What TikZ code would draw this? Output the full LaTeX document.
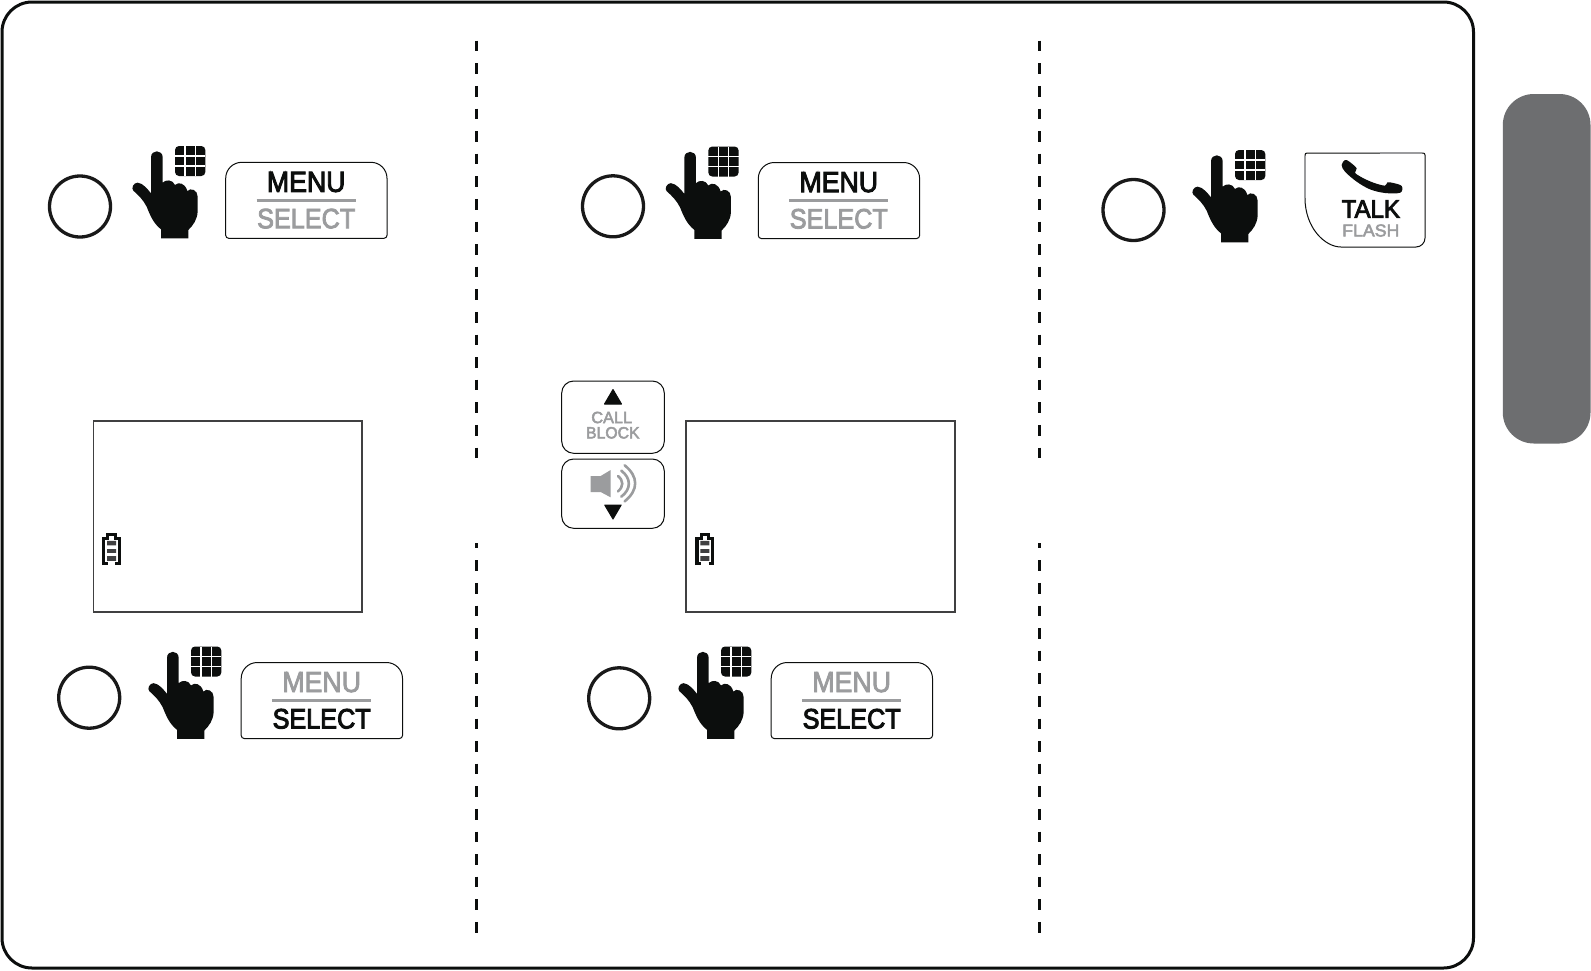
\documentclass[tikz,border=0pt]{standalone}
\usepackage{fontspec}
\setmainfont{Liberation Sans}
\newfontfamily\btnfont[FakeBold=3.5]{Liberation Sans}
\newfontfamily\softfont[FakeBold=3]{Liberation Sans}
\definecolor{inkk}{HTML}{0C0E0D}
\definecolor{softgray}{HTML}{9B9C9E}
\definecolor{tabgray}{HTML}{6D6E70}
\definecolor{scrline}{HTML}{404041}
\tikzset{
  framebox/.style={draw=inkk,line width=3pt,rounded corners=30pt},
  tabbox/.style={fill=tabgray,rounded corners=31pt},
  dashline/.style={draw=inkk,line width=2.8pt,dash pattern=on 10.7pt off 11.9pt},
  stepcircle/.style={circle,draw=black!90!white,line width=3.3pt,minimum size=61pt,inner sep=0pt,fill=white},
  btnline/.style={draw=inkk,line width=1pt},
  screenbox/.style={draw=scrline,line width=1.6pt,outer sep=0pt,inner sep=0pt,anchor=north west,minimum width=268.8pt,minimum height=191pt},
  lbl/.style={inner sep=0pt,outer sep=0pt,anchor=center},
  softline/.style={draw=softgray,line width=3pt}
}
% hand icon, drawn in units of 1/3 pixel
\newcommand{\handicon}[2]{%
  \begin{scope}[shift={(#1+125,#2+140)},x=0.33333pt,y=-0.33333pt]
    \fill[inkk] (108,295) -- (108,268) .. controls (85,250) and (75,225) .. (65,200)
      .. controls (55,180) and (40,165) .. (25,152)
      .. controls (18,145) and (25,128) .. (38,128)
      .. controls (55,130) and (68,148) .. (78,160) -- (78,52)
      .. controls (78,28) and (113,28) .. (113,52) -- (113,128)
      .. controls (122,118) and (143,118) .. (150,135)
      .. controls (160,125) and (180,128) .. (187,153)
      .. controls (197,142) and (218,150) .. (218,170) -- (218,215)
      .. controls (216,240) and (205,255) .. (190,270) -- (190,295) -- cycle;
    \fill[inkk,rounded corners=4pt] (150,18) rectangle (241,108);
    \draw[white,line width=1.1pt] (180,18) -- (180,108) (211,18) -- (211,108)
      (150,48) -- (241,48) (150,78) -- (241,78);
  \end{scope}}
% MENU / SELECT button: #1 name, #2 x, #3 y, #4 MENU look, #5 SELECT look
\newcommand{\menubtn}[5]{%
  \begin{scope}[shift={(#2,#3)}]
    \draw[btnline] (0,38) [rounded corners=3pt] -- (0,76) -- (161.3,76) -- (161.3,38)
      [rounded corners=16pt] -- (161.3,0) -- (0,0) -- cycle;
    \node[lbl] (#1m) at (80.5,19.7) {#4{\fontsize{29}{29}\selectfont\scalebox{0.92}[1]{MENU}}};
    \draw[softline] (31,37.7) -- (130,37.7);
    \node[lbl] (#1s) at (80.5,56.3) {#5{\fontsize{28}{28}\selectfont\scalebox{0.9}[1]{SELECT}}};
  \end{scope}}
\newcommand{\blacklook}{\btnfont\color{inkk}}
\newcommand{\graylook}{\softfont\color{softgray}}
% battery icon
\newcommand{\batticon}[2]{%
  \begin{scope}[shift={(#1,#2)}]
    \draw[inkk,line width=3.2pt,miter limit=2] (1.6,32.5) -- (1.6,5.8) -- (5.8,5.8) -- (5.8,1.6)
      -- (13.2,1.6) -- (13.2,5.8) -- (17.4,5.8) -- (17.4,32.5);
    \draw[inkk,line width=3pt] (1.6,31) -- (5.8,31) (13.2,31) -- (17.4,31);
    \fill[scrline] (5,8.3) rectangle (14,12.8) (5,16.6) rectangle (14,20.4) (5,23.7) rectangle (14,28.3);
  \end{scope}}
\begin{document}
\begin{tikzpicture}[x=1pt,y=-1pt]
\useasboundingbox (0,0) rectangle (1591,970);
\fill[white] (0,0) rectangle (1591,970);

% outer frame and side tab
\draw[framebox] (2,2) rectangle (1473.5,968);
\fill[tabbox] (1502.8,94) rectangle (1590.5,443.5);

% dashed dividers
\foreach \xx in {476.7,1039.2}{
  \draw[dashline] (\xx,40.7) -- (\xx,457.8);
  \draw[dashline,dash phase=5.6pt] (\xx,543.3) -- (\xx,932.7);
}

% step circles
\node[stepcircle] (c1) at (80,206.5) {};
\node[stepcircle] (c2) at (89.2,697.7) {};
\node[stepcircle] (c3) at (613,206.3) {};
\node[stepcircle] (c4) at (619.2,698.3) {};
\node[stepcircle] (c5) at (1133.5,210) {};

% hands
\handicon{0}{0}
\handicon{16}{500.5}
\handicon{533.3}{0.5}
\handicon{546}{500.5}
\handicon{1060}{4}

% menu buttons
\menubtn{b1}{225.7}{162.3}{\blacklook}{\graylook}
\menubtn{b2}{758.3}{162.5}{\blacklook}{\graylook}
\menubtn{b3}{241.2}{662.5}{\graylook}{\blacklook}
\menubtn{b4}{771.2}{662.5}{\graylook}{\blacklook}

% screens
\node[screenbox,draw] (s1) at (93.4,421.2) {};
\node[screenbox,draw] (s2) at (685.9,421.2) {};
\batticon{102}{532.5}
\batticon{695.3}{532.5}

% call block / volume buttons
\draw[btnline,rounded corners=12pt] (561.7,381) rectangle (664.3,453.3);
\draw[btnline,rounded corners=12pt] (561.7,459) rectangle (664.3,528.3);
\fill[inkk,draw=inkk,line width=1pt,line join=round] (613,389.5) -- (621.5,404) -- (604.5,404) -- cycle;
\fill[inkk,draw=inkk,line width=1pt,line join=round] (613,519) -- (621.2,505) -- (604.7,505) -- cycle;
\node[lbl,softgray] (call) at (611.7,417.5) {\softfont\fontsize{16.3}{16.3}\selectfont CALL};
\node[lbl,softgray] (block) at (612.8,432.8) {\softfont\fontsize{16.3}{16.3}\selectfont\scalebox{0.97}[1]{BLOCK}};
% speaker
\begin{scope}[shift={(580,460)},x=0.33333pt,y=-0.33333pt]
  \fill[softgray] (32,48) -- (62,48) -- (92,30) -- (92,112) -- (62,96) -- (32,96) -- cycle;
  \draw[softgray,line width=2.6pt,line cap=round]
    (114,48) .. controls (131,62) and (131,80) .. (114,94)
    (124,32) .. controls (154,55) and (154,87) .. (124,110)
    (134,16) .. controls (176,50) and (176,90) .. (134,124);
\end{scope}

% talk button
\begin{scope}[shift={(1305,153)}]
  \draw[btnline] (0,45) [rounded corners=2pt] -- (0,0) -- (120,0) [rounded corners=9pt] -- (120,94) -- (45,94)
     [sharp corners] .. controls (20,94) and (0,75) .. (0,45);
  \draw[softgray,line width=1.2pt] (0,3) -- (0,45);
  \draw[softgray,line width=1.2pt] (75,0) -- (117,0);
\end{scope}
\begin{scope}[shift={(1330,150)},x=0.33333pt,y=-0.33333pt]
  \fill[inkk] plot[smooth cycle,tension=0.55] coordinates {(35,45) (45,30) (58,35) (80,55) (75,68) (95,82) (130,98) (165,107) (172,97) (190,99) (215,108) (211,128) (165,129) (120,118) (80,95) (45,65)};
\end{scope}
\node[lbl] (talk) at (1370.8,209) {\btnfont\color{inkk}\fontsize{25}{25}\selectfont\scalebox{0.96}[1]{TALK}};
\node[lbl] (flash) at (1370.8,230.5) {\softfont\color{softgray}\fontsize{17.2}{17.2}\selectfont\scalebox{1.03}[1]{FLASH}};
\end{tikzpicture}
\end{document}
